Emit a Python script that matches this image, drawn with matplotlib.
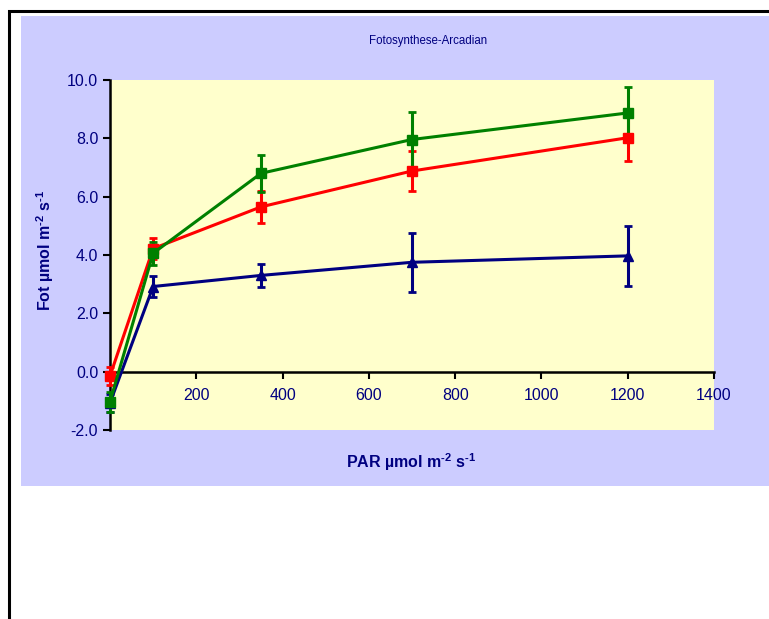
import numpy as np
import matplotlib
matplotlib.use("Agg")
import matplotlib.pyplot as plt
from matplotlib.patches import Rectangle

plt.rcParams['font.family'] = ['Liberation Sans', 'DejaVu Sans']
plt.rcParams['mathtext.fontset'] = 'custom'
plt.rcParams['mathtext.rm'] = 'Liberation Sans:bold'
plt.rcParams['mathtext.bf'] = 'Liberation Sans:bold'

# data
par = [0, 100, 350, 700, 1200]
blue_vals = [-1.07, 2.92, 3.30, 3.75, 3.97]
blue_err = [0.30, 0.35, 0.40, 1.02, 1.03]
red_vals = [-0.15, 4.22, 5.65, 6.88, 8.02]
red_err = [0.30, 0.35, 0.55, 0.70, 0.80]
green_vals = [-1.03, 4.06, 6.80, 7.96, 8.87]
green_err = [0.35, 0.40, 0.63, 0.95, 0.90]

x_ticks = [0, 200, 400, 600, 800, 1000, 1200, 1400]
y_ticks = [-2, 0, 2, 4, 6, 8, 10]

navy = '#000080'
W, H = 769, 619

fig = plt.figure(figsize=(W / 100, H / 100), dpi=100)
fig.patch.set_facecolor('white')

# outer border + chart area
fig.patches.append(Rectangle((9 / W, -0.1), 1.2, (H - 11) / H + 0.1, transform=fig.transFigure,
                             facecolor='none', edgecolor='black', linewidth=2.2, zorder=-2))
fig.patches.append(Rectangle((21 / W, (H - 486) / H), 1.0, (486 - 16) / H, transform=fig.transFigure,
                             facecolor='#CCCCFF', edgecolor='none', zorder=-1))

ax = fig.add_axes([110 / W, (H - 430) / H, 604 / W, 350 / H])
ax.set_facecolor('#FFFFCC')

series = [
    (blue_vals, blue_err, navy, '^'),
    (red_vals, red_err, '#FF0000', 's'),
    (green_vals, green_err, '#008000', 's'),
]
for vals, err, col, mk in series:
    ax.errorbar(par, vals, yerr=err, color=col, marker=mk, markersize=7.5, linewidth=2.2,
                elinewidth=2.2, capsize=3, capthick=2, clip_on=False, zorder=3)

ax.set_xlim(0, 1400)
ax.set_ylim(-2, 10)
ax.set_xticks(x_ticks)
ax.set_xticklabels([''] + [str(t) for t in x_ticks[1:]])
ax.set_yticks(y_ticks)
ax.set_yticklabels(['%.1f' % t for t in y_ticks])

ax.spines['top'].set_visible(False)
ax.spines['right'].set_visible(False)
ax.spines['bottom'].set_position(('data', 0))
for s in ('left', 'bottom'):
    ax.spines[s].set_linewidth(1.8)
    ax.spines[s].set_color('black')
ax.tick_params(axis='both', direction='out', length=5, width=1.5, colors='black',
               labelcolor=navy, labelsize=11.5)
ax.tick_params(axis='x', pad=7)

fig.text(428 / W, 1 - 41 / H, 'Fotosynthese-Arcadian', ha='center', va='center',
         fontsize=8.3, color=navy)
fig.text(411 / W, 1 - 462 / H, r'PAR µmol m$^{\text{-2}}$ s$^{\text{-1}}$', ha='center',
         va='center', fontsize=11.5, fontweight='bold', color=navy)
fig.text(45 / W, 1 - 250 / H, r'Fot µmol m$^{\text{-2}}$ s$^{\text{-1}}$', ha='center',
         va='center', rotation=90, fontsize=11.5, fontweight='bold', color=navy)

fig.savefig('out.png', dpi=100, facecolor='white')
